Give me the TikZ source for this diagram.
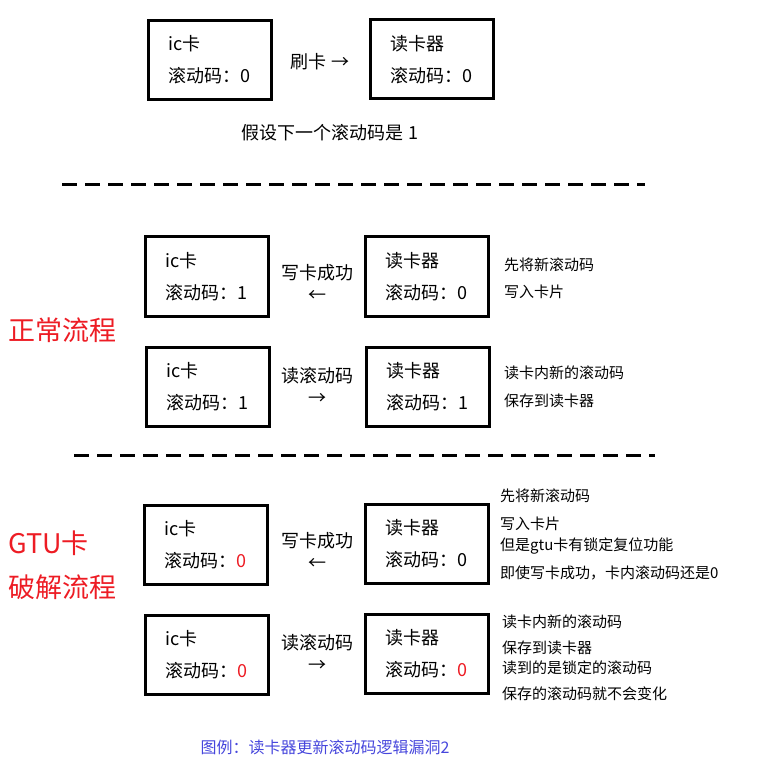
\documentclass[tikz,border=0pt]{standalone}
\usepackage{fontspec}
\setmainfont{Noto Sans CJK SC}
\usepackage{tikz}
\usetikzlibrary{positioning}
\definecolor{flowred}{RGB}{237,28,36}
\definecolor{capblue}{RGB}{70,70,220}
\tikzset{
	card/.style = {draw, rectangle, line width=3pt, minimum width=123pt, minimum height=79pt, align=left, font=\fontsize{18}{32}\selectfont},
	act/.style = {align=center, inner sep=0pt, font=\fontsize{18}{22}\selectfont},
	note/.style = {anchor=west, inner sep=0pt, font=\fontsize{15}{18}\selectfont},
	flow/.style = {anchor=west, inner sep=0pt, text=flowred, font=\fontsize{27}{30}\selectfont},
	sep/.style = {line width=3pt, dash pattern=on 15pt off 8pt}
}
\begin{document}
\begin{tikzpicture}[x=1pt, y=-1pt]
		\useasboundingbox (0,0) rectangle (771,783);
		% swipe
		\node[card] at (209.5,60) (ic0) {ic卡\\滚动码：0};
		\node[card] at (431.5,59.5) (rd0) {读卡器\\滚动码：0};
		\node[act] at (320,62) (swipe) {刷卡 →};
		\node[act] at (330,133) (assume) {假设下一个滚动码是 1};
		\draw[sep] (62,185) -- (645,185);
		% normal
		\node[flow] at (8,330) (normal) {正常流程};
		\node[card] at (206.5,276.5) (icA) {ic卡\\滚动码：1};
		\node[card] at (426.5,276.5) (rdA) {读卡器\\滚动码：0};
		\node[act] at (317.5,282.5) (writeA) {写卡成功\\←};
		\node[note] at (504,265) (noteA1) {先将新滚动码};
		\node[note] at (504,292) (noteA2) {写入卡片};
		\node[card] at (207.5,386.5) (icB) {ic卡\\滚动码：1};
		\node[card] at (427.5,387) (rdB) {读卡器\\滚动码：1};
		\node[act] at (317,386) (readB) {读滚动码\\→};
		\node[note] at (504,373) (noteB1) {读卡内新的滚动码};
		\node[note] at (504,401) (noteB2) {保存到读卡器};
		\draw[sep] (74,455) -- (655,455);
		% gtu
		\node[flow] at (8,543) (gtu) {GTU卡};
		\node[flow] at (8,587) (crack) {破解流程};
		\node[card] at (205.5,544.5) (icC) {ic卡\\滚动码：\textcolor{flowred}{0}};
		\node[card] at (426.5,544) (rdC) {读卡器\\滚动码：0};
		\node[act] at (317,551) (writeC) {写卡成功\\←};
		\node[note] at (500,496) (noteC1) {先将新滚动码};
		\node[note] at (500,524) (noteC2) {写入卡片};
		\node[note] at (500,546) (noteC3) {但是gtu卡有锁定复位功能};
		\node[note] at (500,573) (noteC4) {即使写卡成功，卡内滚动码还是0};
		\node[card] at (206.5,654.5) (icD) {ic卡\\滚动码：\textcolor{flowred}{0}};
		\node[card] at (426.5,653.5) (rdD) {读卡器\\滚动码：\textcolor{flowred}{0}};
		\node[act] at (317,653) (readD) {读滚动码\\→};
		\node[note] at (502,622) (noteD1) {读卡内新的滚动码};
		\node[note] at (502,648) (noteD2) {保存到读卡器};
		\node[note] at (502,668) (noteD3) {读到的是锁定的滚动码};
		\node[note] at (502,694) (noteD4) {保存的滚动码就不会变化};
		\node[act, text=capblue, font=\fontsize{16}{18}\selectfont] at (325,747) (caption) {图例：读卡器更新滚动码逻辑漏洞2};
	\end{tikzpicture}
\end{document}
